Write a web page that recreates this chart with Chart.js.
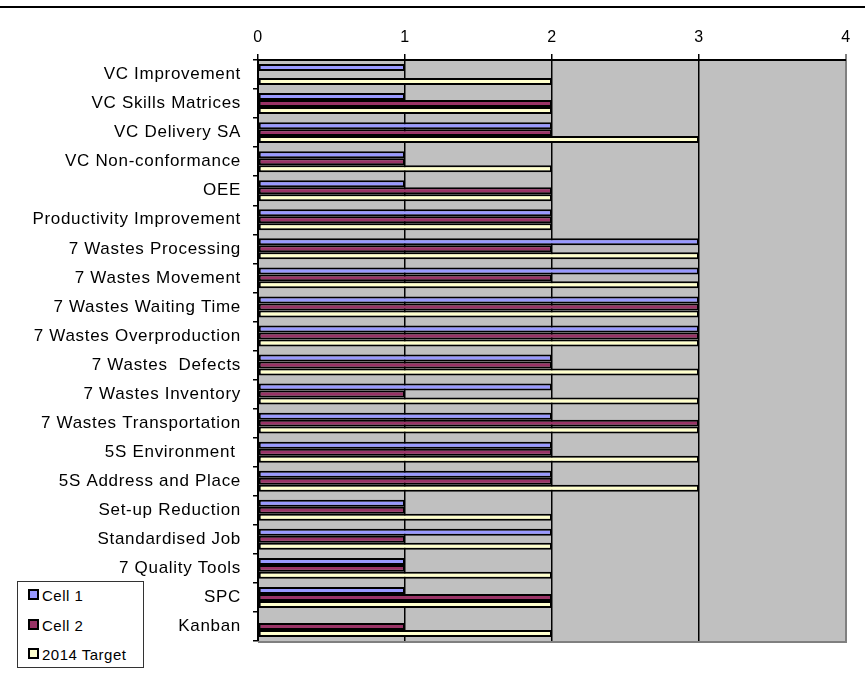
<!DOCTYPE html>
<html>
<head>
<meta charset="utf-8">
<script src="https://cdn.jsdelivr.net/npm/chart.js@4.4.1/dist/chart.umd.min.js"></script>
<style>
  body { margin: 0; background: #fff; font-family: Arial, "Liberation Sans", sans-serif; }
  #wrap { position: relative; width: 865px; height: 680px; }
  #topline { position: absolute; left: 0; top: 6px; width: 865px; height: 2px; background: #000; }
  #legend { position: absolute; left: 17px; top: 581px; width: 125px; height: 85px; border: 1px solid #333; background: #fff; }
  #legend div { position: absolute; left: 10px; font-size: 15px; line-height: 15px; color: #000; letter-spacing: 0.5px; }
  #legend span { display: inline-block; width: 7px; height: 7px; border: 2px solid #000; margin-right: 3px; vertical-align: 1px; }
</style>
</head>
<body>
<div id="wrap">
  <canvas id="grafico" width="865" height="680"></canvas>
  <div id="topline"></div>
  <div id="legend"></div>
</div>
<script>
const categorias = ['VC Improvement', 'VC Skills Matrices', 'VC Delivery SA', 'VC Non-conformance', 'OEE',
  'Productivity Improvement', '7 Wastes Processing', '7 Wastes Movement', '7 Wastes Waiting Time',
  '7 Wastes Overproduction', '7 Wastes  Defects', '7 Wastes Inventory', '7 Wastes Transportation',
  '5S Environment ', '5S Address and Place', 'Set-up Reduction', 'Standardised Job', '7 Quality Tools',
  'SPC', 'Kanban'];
const cell1 = [1, 1, 2, 1, 1, 2, 3, 3, 3, 3, 2, 2, 2, 2, 2, 1, 2, 1, 1, 0];
const cell2 = [0, 2, 2, 1, 2, 2, 2, 2, 3, 3, 2, 1, 3, 2, 2, 1, 1, 1, 2, 1];
const target2014 = [2, 2, 3, 2, 2, 2, 3, 3, 3, 3, 3, 3, 3, 3, 3, 2, 2, 2, 2, 2];
const xTicks = [0, 1, 2, 3, 4];

const series = [
  { label: 'Cell 1', data: cell1, color: '#9999ff' },
  { label: 'Cell 2', data: cell2, color: '#993366' },
  { label: '2014 Target', data: target2014, color: '#ffffcc' }
];

// fundo cinza da area do grafico
const fundo = {
  id: 'fundo',
  beforeDraw(chart) {
    const { ctx, chartArea: a } = chart;
    ctx.letterSpacing = '0.7px';
    ctx.save();
    ctx.fillStyle = '#c0c0c0';
    ctx.fillRect(a.left, a.top, a.right - a.left, a.bottom - a.top);
    ctx.restore();
  },
  afterDraw(chart) {
    const { ctx, chartArea: a } = chart;
    ctx.save();
    ctx.strokeStyle = '#808080';
    ctx.lineWidth = 2;
    ctx.beginPath();
    ctx.moveTo(a.left, a.bottom + 1);
    ctx.lineTo(a.right + 1, a.bottom + 1);
    ctx.stroke();
    ctx.restore();
  }
};

const ctx = document.getElementById('grafico').getContext('2d');
new Chart(ctx, {
  type: 'bar',
  data: {
    labels: categorias,
    datasets: series.map(s => ({
      label: s.label,
      data: s.data,
      backgroundColor: s.color,
      borderColor: '#000',
      borderWidth: 2,
      borderSkipped: false,
      categoryPercentage: 0.72,
      barPercentage: 1
    }))
  },
  options: {
    indexAxis: 'y',
    responsive: false,
    animation: false,
    layout: { padding: { top: 20, right: 19, bottom: 39, left: 0 } },
    scales: {
      x: {
        position: 'top',
        min: 0,
        max: 4,
        afterBuildTicks(scale) { scale.ticks = xTicks.map(v => ({ value: v })); },
        afterFit(scale) { scale.height = 40; },
        ticks: { color: '#000', font: { family: 'Arial, "Liberation Sans"', size: 16 }, padding: 7 },
        grid: {
          color: c => (c.tick && c.tick.value === 4 ? '#808080' : '#000'),
          lineWidth: c => (c.tick && c.tick.value === 4 ? 2 : 1.5),
          tickLength: 6
        },
        border: { color: '#000', width: 2 }
      },
      y: {
        afterFit(scale) { scale.width = 258; },
        ticks: { color: '#000', font: { family: 'Arial, "Liberation Sans"', size: 17 }, padding: 12, autoSkip: false },
        grid: { offset: true, drawOnChartArea: false, color: '#000', tickLength: 5, lineWidth: 1.5 },
        border: { color: '#000', width: 2 }
      }
    },
    plugins: {
      legend: { display: false },
      tooltip: { enabled: false }
    }
  },
  plugins: [fundo]
});

// legenda em HTML
const legend = document.getElementById('legend');
series.forEach((s, i) => {
  const d = document.createElement('div');
  d.style.top = (6 + i * 29.5) + 'px';
  d.innerHTML = '<span style="background:' + s.color + '"></span>' + s.label;
  legend.appendChild(d);
});
</script>
</body>
</html>
